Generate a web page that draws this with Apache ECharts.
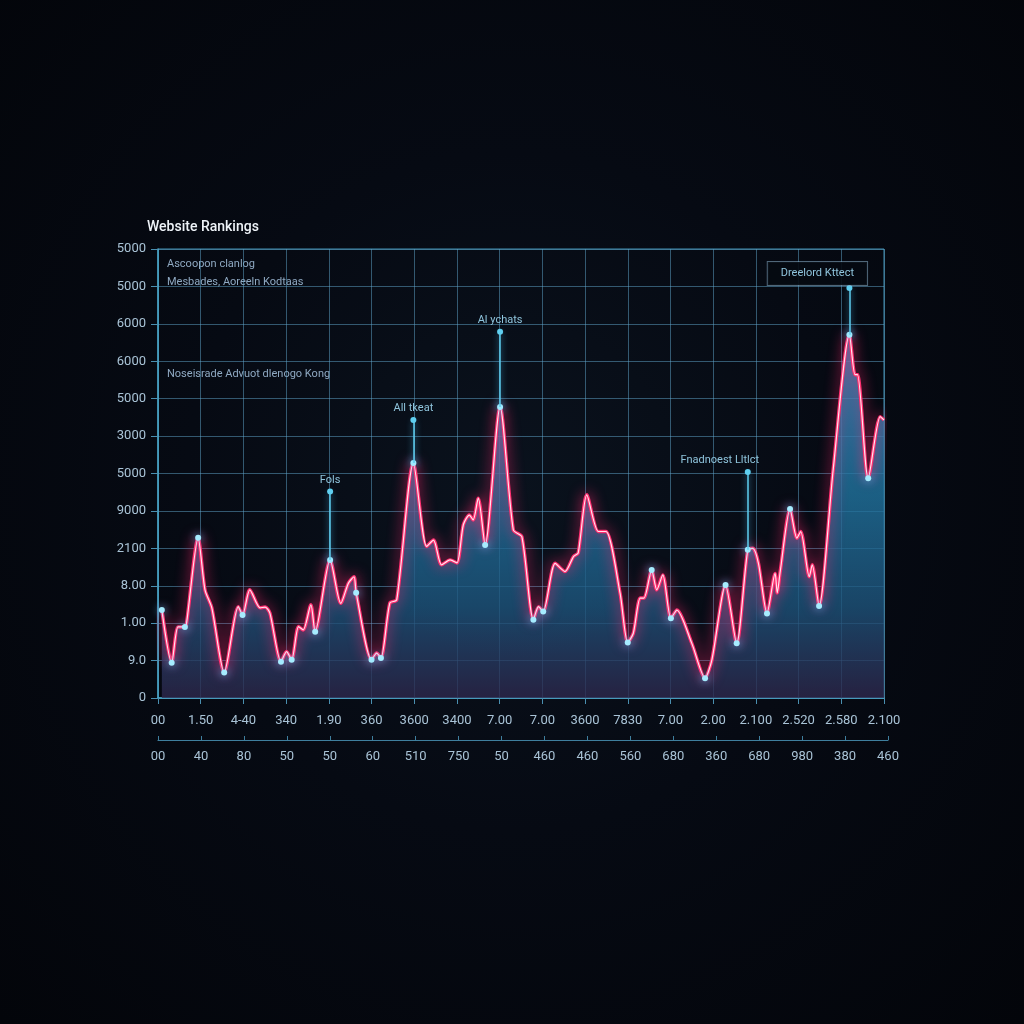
<!DOCTYPE html>
<html>
<head>
<meta charset="utf-8">
<script src="https://cdn.jsdelivr.net/npm/echarts@6/dist/echarts.min.js"></script>
<style>
  html, body { margin: 0; padding: 0; width: 1024px; height: 1024px; }
  body { background: radial-gradient(ellipse at 50% 48%, #0a121d 0%, #060a13 45%, #03050a 100%); }
  #chart { width: 1024px; height: 1024px; }
</style>
</head>
<body>
<div id="chart"></div>
<script>
const titleText = 'Website Rankings';
const noteTexts = ['Ascoopon clanlog', 'Mesbades, Aoreeln Kodtaas', 'Noseisrade Advuot dlenogo Kong'];

// tick labels (bottom to top / left to right)
const yLabels = ['0', '9.0', '1.00', '8.00', '2100', '9000', '5000', '3000', '5000', '6000', '6000', '5000', '5000'];
const xTopLabels = ['00', '1.50', '4-40', '340', '1.90', '360', '3600', '3400', '7.00', '7.00', '3600', '7830', '7.00', '2.00', '2.100', '2.520', '2.580', '2.100'];
const xBottomLabels = ['00', '40', '80', '50', '50', '60', '510', '750', '50', '460', '460', '560', '680', '360', '680', '980', '380', '460'];

// ranking trace
const rankX = [0.9, 3.2, 4.7, 6.3, 6.7, 9.4, 11.0, 12.6, 15.5, 18.8, 19.8, 21.5, 23.9, 25.1, 26.2, 28.8, 30.1, 31.3, 32.9, 34.0,
  35.8, 36.8, 40.3, 42.8, 44.6, 45.9, 46.4, 50.0, 51.2, 52.2, 54.3, 55.9, 59.8, 62.9, 64.5, 66.4, 68.4, 70.0, 71.5, 72.9,
  73.8, 75.0, 76.6, 80.1, 83.2, 85.2, 87.9, 89.1, 90.2, 93.0, 95.3, 97.3, 98.4, 100.4, 103.1, 104.9, 108.2, 110.0, 111.3, 112.9,
  113.8, 115.6, 116.8, 118.2, 120.1, 121.5, 125.0, 128.1, 129.7, 132.9, 135.5, 138.1, 139.3, 140.6, 142.6, 144.5, 145.0, 145.7, 148.0, 149.6,
  150.5, 152.5, 153.2, 154.8, 158.1, 161.9, 163.2, 163.8, 166.3, 169.1, 170];
const rankY = [23.5, 9.4, 19.0, 19.0, 20.1, 42.8, 28.9, 24.1, 6.8, 24.4, 22.2, 28.9, 24.1, 24.3, 22.7, 9.7, 12.4, 10.2, 19.1, 18.2,
  24.9, 17.7, 36.9, 25.3, 30.7, 32.4, 28.1, 10.2, 12.0, 10.7, 25.4, 26.2, 62.8, 40.5, 42.2, 35.6, 36.9, 36.1, 46.3, 48.9,
  47.6, 53.4, 40.9, 77.8, 44.9, 43.1, 20.9, 24.4, 23.1, 36.0, 33.8, 37.8, 38.8, 54.3, 44.5, 44.5, 28.0, 14.8, 17.3, 26.7,
  26.7, 34.2, 28.9, 32.9, 21.3, 23.5, 14.6, 5.3, 10.2, 30.2, 14.6, 39.6, 40.0, 36.0, 22.6, 33.3, 28.1, 33.8, 50.5, 42.7,
  44.5, 32.4, 35.6, 24.6, 61.0, 97.1, 86.4, 86.4, 58.7, 75.2, 74.3];
// points drawn with a glowing dot
const dotIdx = [0, 1, 3, 5, 8, 10, 15, 17, 21, 22, 26, 27, 29, 32, 42, 43, 46, 48, 57, 61, 64, 67, 69, 70, 71, 74, 78, 83, 85, 88];

// callouts: [x, from y, to y, text]
const callouts = [
  [40.3, 36.9, 55.2, 'Fols'],
  [59.8, 62.8, 74.3, 'All tkeat'],
  [80.1, 77.8, 97.9, 'Al ychats'],
  [138.1, 39.6, 60.4, 'Fnadnoest Lltlct'],
  [161.9, 97.1, 109.6, 'Dreelord Kttect']
];

const chart = echarts.init(document.getElementById('chart'));

const pts = rankX.map((x, i) => [x, rankY[i]]);
const dotPts = rankX.map((x, i) => ({
  value: [x, rankY[i]],
  symbol: dotIdx.includes(i) ? 'circle' : 'none'
}));

const labelFont = 'Roboto, "DejaVu Sans", sans-serif';
const axisTextColor = '#a9c3d6';
const gridColor = 'rgba(96,165,204,0.5)';

const calloutLines = callouts.map((c, i) => {
  const boxed = i === callouts.length - 1;
  let offset = [0, 0];
  if (i === 3) offset = [-28, 0];
  if (boxed) offset = [-32, 0];
  return [
    { coord: [c[0], c[1]] },
    {
      coord: [c[0], c[2]],
      label: {
        show: true,
        position: 'end',
        formatter: c[3],
        color: '#8fc4dc',
        fontSize: 11,
        fontFamily: labelFont,
        distance: boxed ? 3 : 6,
        offset: offset,
        padding: boxed ? [6, 13, 6, 13] : 0,
        borderColor: boxed ? 'rgba(130,165,190,0.6)' : 'transparent',
        borderWidth: boxed ? 1 : 0,
        backgroundColor: boxed ? 'rgba(5,10,18,0.9)' : 'transparent'
      }
    }
  ];
});

const option = {
  backgroundColor: 'transparent',
  animation: false,
  graphic: [
    { type: 'text', left: 147, top: 220, style: { text: titleText, fill: '#eef3f8', font: '500 14px ' + labelFont } },
    { type: 'text', left: 167, top: 259, style: { text: noteTexts[0], fill: '#8fa9c2', font: '11px ' + labelFont } },
    { type: 'text', left: 167, top: 277, style: { text: noteTexts[1], fill: '#8fa9c2', font: '11px ' + labelFont } },
    { type: 'text', left: 167, top: 369, style: { text: noteTexts[2], fill: '#8fa9c2', font: '11px ' + labelFont } }
  ],
  grid: [
    { left: 158, right: 140, top: 249, bottom: 326, show: true, borderColor: '#3f8fb2', borderWidth: 1 },
    { left: 158, right: 136, top: 740, height: 0 }
  ],
  xAxis: [
    {
      type: 'value',
      gridIndex: 0,
      min: 0,
      max: 170,
      interval: 10,
      axisLine: { show: true, lineStyle: { color: '#4aa6c8', width: 1.5 } },
      axisTick: { show: true, length: 6, lineStyle: { color: '#4a8fb0' } },
      axisLabel: {
        color: axisTextColor,
        fontSize: 13,
        fontFamily: labelFont,
        margin: 16,
        formatter: v => xTopLabels[Math.round(v / 10)]
      },
      splitLine: { show: true, lineStyle: { color: gridColor, width: 1 } }
    },
    {
      type: 'value',
      gridIndex: 1,
      min: 0,
      max: 170,
      interval: 10,
      axisLine: { show: true, lineStyle: { color: '#3f7f9e', width: 1.2 } },
      axisTick: { show: true, inside: true, length: 4, lineStyle: { color: '#3f7f9e' } },
      axisLabel: {
        color: axisTextColor,
        fontSize: 13,
        fontFamily: labelFont,
        margin: 10,
        formatter: v => xBottomLabels[Math.round(v / 10)]
      },
      splitLine: { show: false }
    }
  ],
  yAxis: [
    {
      type: 'value',
      gridIndex: 0,
      min: 0,
      max: 120,
      interval: 10,
      axisLine: { show: true, lineStyle: { color: '#4aa6c8', width: 1.5 } },
      axisTick: { show: true, length: 7, lineStyle: { color: '#4a8fb0' } },
      axisLabel: {
        color: axisTextColor,
        fontSize: 13,
        fontFamily: labelFont,
        margin: 12,
        formatter: v => yLabels[Math.round(v / 10)]
      },
      splitLine: { show: true, lineStyle: { color: gridColor, width: 1 } }
    },
    { type: 'value', gridIndex: 1, show: false }
  ],
  series: [
    {
      type: 'line',
      data: pts,
      smooth: 0.25,
      symbol: 'none',
      z: 2,
      lineStyle: {
        color: '#ff2f70',
        width: 3.5,
        shadowBlur: 14,
        shadowColor: 'rgba(255,40,110,0.95)'
      },
      areaStyle: {
        opacity: 0.8,
        color: new echarts.graphic.LinearGradient(0, 0, 0, 1, [
          { offset: 0, color: '#2e9ad0' },
          { offset: 0.45, color: '#2174a0' },
          { offset: 0.75, color: '#1e547c' },
          { offset: 1, color: '#2e284d' }
        ])
      },
      markLine: {
        silent: true,
        symbol: ['none', 'circle'],
        symbolSize: 6,
        lineStyle: { color: '#5fcff0', width: 1.5, type: 'solid', shadowBlur: 6, shadowColor: 'rgba(80,200,255,0.8)' },
        label: { show: false },
        data: calloutLines
      }
    },
    {
      type: 'line',
      data: dotPts,
      smooth: 0.25,
      symbolSize: 6,
      z: 3,
      lineStyle: { color: '#ffe3ee', width: 1.2 },
      itemStyle: {
        color: '#a6ecff',
        borderWidth: 0,
        shadowBlur: 8,
        shadowColor: 'rgba(80,200,255,0.95)'
      }
    }
  ]
};

chart.setOption(option);
</script>
</body>
</html>
